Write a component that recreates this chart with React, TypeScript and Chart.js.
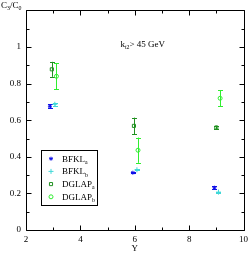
import React, { useEffect, useRef } from "react";
import { Chart, registerables } from "chart.js";
import { drawPoint } from "chart.js/helpers";

Chart.register(...registerables);

// ---- data ----
const seriesNames = ["BFKL_a", "BFKL_b", "DGLAP_a", "DGLAP_b"];
const bfklAX = [2.88, 5.93, 8.93];
const bfklAY = [0.676, 0.313, 0.231];
const bfklAErr = [0.01, 0.004, 0.008];
const bfklBX = [3.06, 6.08, 9.08];
const bfklBY = [0.687, 0.329, 0.207];
const bfklBErr = [0.007, 0.003, 0.003];
const dglapAX = [2.95, 5.97, 9.0];
const dglapAY = [0.878, 0.569, 0.56];
const dglapAErr = [0.041, 0.045, 0.01];
const dglapBX = [3.12, 6.12, 9.14];
const dglapBY = [0.84, 0.436, 0.72];
const dglapBErr = [0.07, 0.069, 0.043];
const xTicks = [2, 4, 6, 8, 10];
const yTicks = [0, 0.2, 0.4, 0.6, 0.8, 1];
const annotation = ["k", "t2", "> 45 GeV"];

const COLORS = ["#1010e8", "#40d8d8", "#209020", "#30ee30"];
const STYLES = ["star", "cross", "rect", "circle"];
const RADII = [2, 2.5, 2.2, 2];
const ERRS = [bfklAErr, bfklBErr, dglapAErr, dglapBErr];
const XS = [bfklAX, bfklBX, dglapAX, dglapBX];
const YS = [bfklAY, bfklBY, dglapAY, dglapBY];

const FONT = "'Liberation Serif', 'DejaVu Serif', serif";

function drawSubText(ctx: CanvasRenderingContext2D, parts: [string, boolean][], x: number, y: number, size: number) {
  let cx = x;
  for (const [t, sub] of parts) {
    ctx.font = `${sub ? size * 0.65 : size}px ${FONT}`;
    ctx.fillText(t, cx, sub ? y + size * 0.25 : y);
    cx += ctx.measureText(t).width;
  }
}

const customPlugin = {
  id: "custom",
  beforeDatasetsDraw(chart: any) {
    const { ctx, scales } = chart;
    const x = scales.x, y = scales.y;
    ctx.save();
    ctx.lineWidth = 1;
    chart.data.datasets.forEach((ds: any, i: number) => {
      ctx.strokeStyle = COLORS[i];
      ds.data.forEach((p: any, j: number) => {
        const px = Math.round(x.getPixelForValue(p.x)) + 0.5;
        const t = y.getPixelForValue(p.y + ERRS[i][j]);
        const b = y.getPixelForValue(p.y - ERRS[i][j]);
        ctx.beginPath();
        ctx.moveTo(px, t);
        ctx.lineTo(px, b);
        ctx.moveTo(px - 2.5, Math.round(t) + 0.5);
        ctx.lineTo(px + 2.5, Math.round(t) + 0.5);
        ctx.moveTo(px - 2.5, Math.round(b) + 0.5);
        ctx.lineTo(px + 2.5, Math.round(b) + 0.5);
        ctx.stroke();
      });
    });
    ctx.restore();
  },
  afterDraw(chart: any) {
    const { ctx, chartArea: a, scales } = chart;
    const x = scales.x, y = scales.y;
    ctx.save();
    ctx.strokeStyle = "#000";
    ctx.lineWidth = 1;
    const L = Math.round(a.left) + 0.5, R = Math.round(a.right) + 0.5;
    const T = Math.round(a.top) + 0.5, B = Math.round(a.bottom) + 0.5;
    ctx.beginPath();
    ctx.rect(L, T, R - L, B - T);
    ctx.stroke();
    // ticks inward
    ctx.beginPath();
    for (let v = 2; v <= 10; v += 1) {
      const px = Math.round(x.getPixelForValue(v)) + 0.5;
      const len = v % 2 === 0 ? 5 : 3;
      ctx.moveTo(px, B); ctx.lineTo(px, B - len);
      ctx.moveTo(px, T); ctx.lineTo(px, T + len);
    }
    for (let k = 0; k <= 12; k++) {
      const v = k / 10;
      const py = Math.round(y.getPixelForValue(v)) + 0.5;
      const len = k % 2 === 0 ? 5 : 3;
      ctx.moveTo(L, py); ctx.lineTo(L + len, py);
      ctx.moveTo(R, py); ctx.lineTo(R - len, py);
    }
    ctx.stroke();

    ctx.fillStyle = "#000";
    ctx.textBaseline = "alphabetic";
    ctx.textAlign = "left";
    // y title
    drawSubText(ctx, [["C", false], ["3", true], ["/C", false], ["0", true]], 1, 8, 9);
    // x title
    ctx.font = `9px ${FONT}`;
    ctx.textAlign = "center";
    ctx.fillText("Y", (a.left + a.right) / 2, 251);
    ctx.textAlign = "left";
    // annotation
    drawSubText(ctx, [[annotation[0], false], [annotation[1], true], [annotation[2], false]], 120.5, 47, 9);

    // legend
    const lx = 41.5, ly = 150.5, lw = 56, lh = 55;
    ctx.fillStyle = "#fff";
    ctx.fillRect(lx, ly, lw, lh);
    ctx.strokeStyle = "#000";
    ctx.strokeRect(lx, ly, lw, lh);
    seriesNames.forEach((name, i) => {
      const rowY = 158.7 + i * 12.7;
      ctx.strokeStyle = COLORS[i];
      ctx.fillStyle = "rgba(0,0,0,0)";
      ctx.lineWidth = 1;
      drawPoint(ctx, { pointStyle: STYLES[i], radius: RADII[i], borderWidth: 1, rotation: 0 } as any, 51, rowY);
      ctx.fillStyle = "#000";
      const [main, sub] = name.split("_");
      drawSubText(ctx, [[main, false], [sub, true]], 62, rowY + 3, 9);
    });
    ctx.restore();
  },
};

export default function App() {
  const ref = useRef<HTMLCanvasElement>(null);
  useEffect(() => {
    if (!ref.current) return;
    const datasets = seriesNames.map((name, i) => ({
      label: name,
      data: XS[i].map((xv, j) => ({ x: xv, y: YS[i][j] })),
      borderColor: COLORS[i],
      backgroundColor: "rgba(0,0,0,0)",
      pointStyle: STYLES[i] as any,
      pointRadius: RADII[i],
      pointBorderWidth: 1,
      showLine: false,
    }));
    const chart = new Chart(ref.current, {
      type: "scatter",
      data: { datasets },
      plugins: [customPlugin],
      options: {
        responsive: false,
        animation: false,
        devicePixelRatio: 1,
        layout: { padding: { top: 10, right: 6, left: 0, bottom: 0 } },
        plugins: { legend: { display: false }, tooltip: { enabled: false } },
        scales: {
          x: {
            type: "linear",
            min: 2,
            max: 10,
            afterFit: (s: any) => { s.height = 23; },
            afterBuildTicks: (s: any) => { s.ticks = xTicks.map((v) => ({ value: v })); },
            grid: { display: false, drawTicks: false },
            border: { display: false },
            ticks: { font: { family: FONT, size: 9 }, color: "#000", padding: 4, maxRotation: 0 },
          },
          y: {
            type: "linear",
            min: 0,
            max: 1.2,
            afterFit: (s: any) => { s.width = 26; },
            afterBuildTicks: (s: any) => { s.ticks = yTicks.map((v) => ({ value: v })); },
            grid: { display: false, drawTicks: false },
            border: { display: false },
            ticks: {
              font: { family: FONT, size: 9 },
              color: "#000",
              padding: 5,
              callback: (v: any) => String(Math.round(Number(v) * 10) / 10),
            },
          },
        },
      },
    });
    return () => chart.destroy();
  }, []);
  return (
    <div style={{ position: "absolute", left: 0, top: 0, width: 252, height: 253, background: "#fff" }}>
      <canvas ref={ref} width={252} height={253} />
    </div>
  );
}
